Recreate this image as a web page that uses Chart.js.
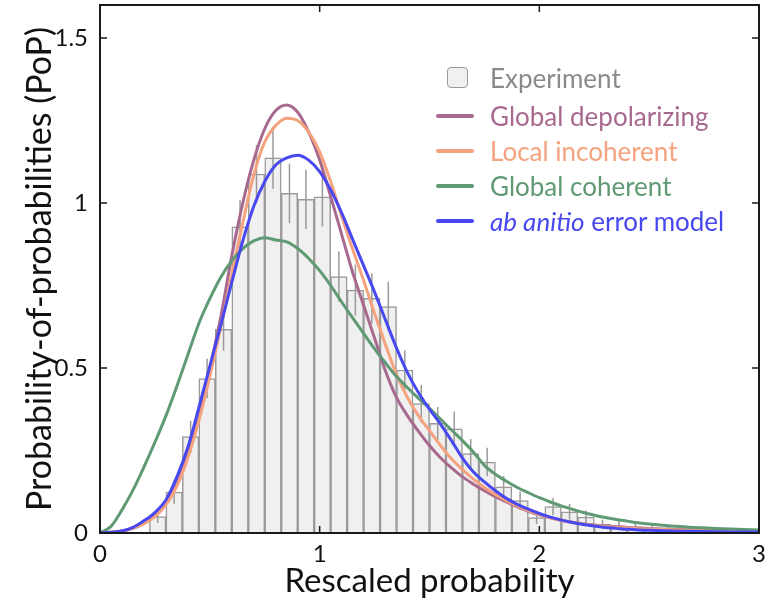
<!DOCTYPE html>
<html>
<head>
<meta charset="utf-8">
<script src="https://cdn.jsdelivr.net/npm/chart.js@4"></script>
<style>
  body { margin: 0; background: #fff; }
  #wrap { position: relative; width: 772px; height: 602px; }
  #legend { position: absolute; left: 436px; top: 60px; font-family: Lato, sans-serif; font-size: 26px; }
  .row { height: 35px; display: flex; align-items: center; white-space: nowrap; }
  .row:first-child { margin-bottom: 3px; }
  .key { width: 38px; margin-right: 16px; display: flex; justify-content: center; }
  .line { width: 38px; height: 4px; border-radius: 2px; }
  .box { width: 19px; height: 19px; border: 1.5px solid #999; border-radius: 4px; background: #f0f0f0; margin-left: 4px; }
</style>
</head>
<body>
<div id="wrap">
  <canvas id="c" width="772" height="602"></canvas>
  <div id="legend"></div>
</div>
<script>
// histogram bins (width 0.075)
const binCenters = [0.0375, 0.1125, 0.1875, 0.2625, 0.3375, 0.4125, 0.4875, 0.5625, 0.6375, 0.7125,
  0.7875, 0.8625, 0.9375, 1.0125, 1.0875, 1.1625, 1.2375, 1.3125, 1.3875, 1.4625,
  1.5375, 1.6125, 1.6875, 1.7625, 1.8375, 1.9125, 1.9875, 2.0625, 2.1375, 2.2125,
  2.2875, 2.3625, 2.4375, 2.5125, 2.5875, 2.6625, 2.7375, 2.8125, 2.8875, 2.9625];
const experiment = [0, 0, 0, 0.05, 0.124, 0.292, 0.468, 0.617, 0.928, 1.088,
  1.137, 1.029, 1.011, 1.019, 0.777, 0.736, 0.711, 0.686, 0.494, 0.392,
  0.332, 0.316, 0.241, 0.215, 0.14, 0.098, 0.047, 0.08, 0.064, 0.048,
  0.026, 0.022, 0.019, 0.016, 0.013, 0.011, 0.01, 0.008, 0.007, 0.006];
const experimentErr = [0, 0, 0, 0.02, 0.035, 0.048, 0.06, 0.065, 0.08, 0.088,
  0.094, 0.09, 0.09, 0.09, 0.076, 0.078, 0.076, 0.075, 0.06, 0.057,
  0.05, 0.052, 0.044, 0.043, 0.033, 0.028, 0.02, 0.026, 0.024, 0.02,
  0.014, 0.014, 0.012, 0.012, 0.011, 0.01, 0.009, 0.009, 0.008, 0.008];

// model curves
const curveX = [0, 0.05, 0.1, 0.15, 0.2, 0.25, 0.3, 0.35, 0.4, 0.45, 0.5, 0.55, 0.6, 0.65, 0.7, 0.75, 0.8, 0.85, 0.9, 0.95,
  1, 1.05, 1.1, 1.15, 1.2, 1.25, 1.3, 1.35, 1.4, 1.45, 1.5, 1.55, 1.6, 1.65, 1.7, 1.75, 1.8, 1.85, 1.9, 1.95,
  2, 2.05, 2.1, 2.15, 2.2, 2.25, 2.3, 2.35, 2.4, 2.45, 2.5, 2.6, 2.7, 2.8, 2.9, 3];
const globalDepolarizing = [0, 0.002, 0.006, 0.014, 0.03, 0.052, 0.088, 0.15, 0.24, 0.355, 0.5, 0.655, 0.84, 1.0, 1.13, 1.225, 1.28, 1.297, 1.275, 1.215,
  1.13, 1.02, 0.905, 0.79, 0.69, 0.59, 0.49, 0.41, 0.355, 0.308, 0.265, 0.228, 0.197, 0.17, 0.148, 0.128, 0.11, 0.094, 0.079, 0.066,
  0.055, 0.046, 0.039, 0.033, 0.028, 0.024, 0.021, 0.019, 0.017, 0.015, 0.014, 0.011, 0.009, 0.007, 0.006, 0.005];
const localIncoherent = [0, 0.002, 0.006, 0.014, 0.028, 0.05, 0.085, 0.142, 0.228, 0.34, 0.475, 0.625, 0.785, 0.94, 1.085, 1.185, 1.235, 1.257, 1.25, 1.215,
  1.155, 1.065, 0.96, 0.86, 0.765, 0.665, 0.57, 0.48, 0.41, 0.355, 0.31, 0.265, 0.225, 0.192, 0.163, 0.138, 0.117, 0.098, 0.082, 0.068,
  0.056, 0.046, 0.038, 0.032, 0.027, 0.023, 0.02, 0.017, 0.015, 0.013, 0.012, 0.01, 0.008, 0.006, 0.005, 0.004];
const globalCoherent = [0, 0.02, 0.07, 0.13, 0.2, 0.275, 0.355, 0.445, 0.54, 0.635, 0.71, 0.775, 0.825, 0.862, 0.885, 0.895, 0.888, 0.882, 0.862, 0.832,
  0.795, 0.75, 0.7, 0.652, 0.605, 0.558, 0.515, 0.474, 0.44, 0.408, 0.378, 0.345, 0.312, 0.28, 0.245, 0.205, 0.178, 0.157, 0.138, 0.122,
  0.107, 0.094, 0.082, 0.072, 0.062, 0.054, 0.047, 0.041, 0.036, 0.031, 0.027, 0.021, 0.017, 0.014, 0.011, 0.009];
const abInitio = [0, 0.002, 0.006, 0.017, 0.037, 0.062, 0.1, 0.17, 0.26, 0.38, 0.505, 0.63, 0.76, 0.885, 0.99, 1.065, 1.115, 1.137, 1.145, 1.13,
  1.095, 1.04, 0.97, 0.89, 0.81, 0.73, 0.645, 0.56, 0.485, 0.425, 0.375, 0.33, 0.28, 0.227, 0.185, 0.155, 0.128, 0.105, 0.087, 0.072,
  0.059, 0.048, 0.039, 0.032, 0.026, 0.021, 0.017, 0.014, 0.011, 0.009, 0.008, 0.006, 0.005, 0.004, 0.003, 0.003];

const xTicks = [0, 1, 2, 3];
const yTicks = [0, 0.5, 1, 1.5];

const series = [
  { name: "Global depolarizing", data: globalDepolarizing, color: "#a8698f" },
  { name: "Local incoherent", data: localIncoherent, color: "#f5a27e" },
  { name: "Global coherent", data: globalCoherent, color: "#5f9a74" },
  { name: "ab anitio error model", data: abInitio, color: "#4848f0" }
];

const pts = arr => arr.map((v, i) => ({ x: curveX[i], y: v }));

// error bars as broken line segments
const errPts = [];
binCenters.forEach((c, i) => {
  if (experimentErr[i] > 0) {
    errPts.push({ x: c, y: experiment[i] - experimentErr[i] });
    errPts.push({ x: c, y: experiment[i] + experimentErr[i] });
    errPts.push({ x: c, y: null });
  }
});

const datasets = series.map((s, i) => ({
  type: "line",
  label: s.name,
  data: pts(s.data),
  borderColor: s.color,
  borderWidth: 3,
  pointRadius: 0,
  cubicInterpolationMode: "monotone",
  order: i === 3 ? 0 : 4 - i
}));
datasets.push({
  type: "line",
  label: "err",
  data: errPts,
  borderColor: "#9a9a9a",
  borderWidth: 1.5,
  pointRadius: 0,
  spanGaps: false,
  order: 8
});
datasets.push({
  type: "bar",
  label: "Experiment",
  data: binCenters.map((c, i) => ({ x: c, y: experiment[i] })),
  backgroundColor: "#f0f0f0",
  borderColor: "#9a9a9a",
  borderWidth: 1.5,
  barPercentage: 1,
  categoryPercentage: 1,
  order: 9
});

// frame with inward ticks on all four sides
const frame = {
  id: "frame",
  afterDraw(chart) {
    const { ctx, chartArea: a, scales: { x, y } } = chart;
    ctx.save();
    ctx.strokeStyle = "#1a1a1a";
    ctx.lineWidth = 2;
    ctx.strokeRect(a.left, a.top, a.right - a.left, a.bottom - a.top);
    ctx.lineWidth = 1.5;
    ctx.beginPath();
    xTicks.forEach(v => {
      const p = x.getPixelForValue(v);
      ctx.moveTo(p, a.bottom); ctx.lineTo(p, a.bottom - 7);
      ctx.moveTo(p, a.top); ctx.lineTo(p, a.top + 7);
    });
    yTicks.forEach(v => {
      const p = y.getPixelForValue(v);
      ctx.moveTo(a.left, p); ctx.lineTo(a.left + 7, p);
      ctx.moveTo(a.right, p); ctx.lineTo(a.right - 7, p);
    });
    ctx.stroke();
    ctx.restore();
  }
};

new Chart(document.getElementById("c"), {
  data: { datasets },
  options: {
    responsive: false,
    animation: false,
    layout: { padding: { left: 0, right: 13, top: 5, bottom: 0 } },
    plugins: { legend: { display: false }, tooltip: { enabled: false } },
    scales: {
      x: {
        type: "linear", min: 0, max: 3, offset: false,
        afterFit: s => { s.height = 69; s.paddingLeft = 0; s.paddingRight = 0; },
        afterBuildTicks: s => { s.ticks = xTicks.map(v => ({ value: v })); },
        grid: { display: false, drawTicks: false },
        border: { display: false },
        ticks: { color: "#111", padding: 7, font: { family: "Lato", size: 24 }, callback: v => String(v) },
        title: { display: true, text: "Rescaled probability", color: "#111", padding: { bottom: 1 }, font: { family: "Lato", size: 33 } }
      },
      y: {
        type: "linear", min: 0, max: 1.6,
        afterFit: s => { s.width = 100; s.paddingTop = 0; s.paddingBottom = 0; },
        afterBuildTicks: s => { s.ticks = yTicks.map(v => ({ value: v })); },
        grid: { display: false, drawTicks: false },
        border: { display: false },
        ticks: { color: "#111", padding: 12, font: { family: "Lato", size: 24 }, callback: v => String(v) },
        title: { display: true, text: "Probability-of-probabilities (PoP)", color: "#111", padding: { top: 20 }, font: { family: "Lato", size: 34 } }
      }
    }
  },
  plugins: [frame]
});

// legend
const legend = document.getElementById("legend");
legend.innerHTML = '<div class="row"><span class="key"><span class="box"></span></span><span style="color:#8a8a8a">Experiment</span></div>' +
  series.map(s => {
    const label = s.name.startsWith("ab anitio")
      ? '<i>ab anitio</i>' + s.name.slice(9)
      : s.name;
    return `<div class="row"><span class="key"><span class="line" style="background:${s.color}"></span></span><span style="color:${s.color}">${label}</span></div>`;
  }).join("");
</script>
</body>
</html>
